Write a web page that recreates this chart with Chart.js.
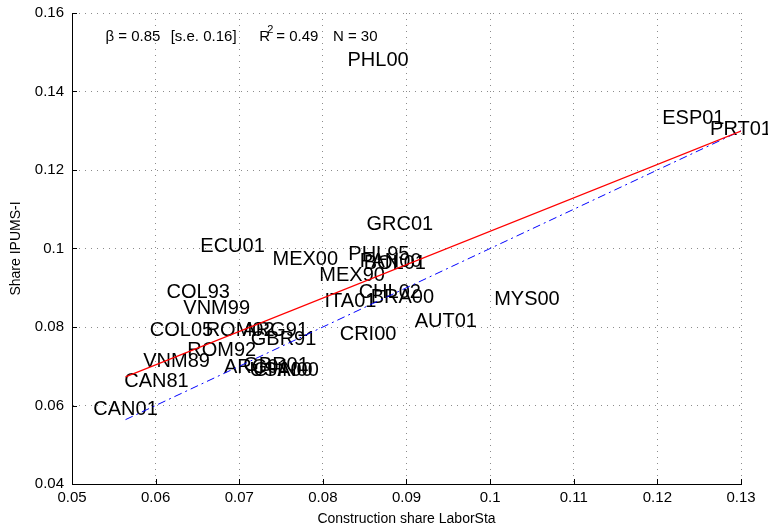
<!DOCTYPE html>
<html>
<head>
<meta charset="utf-8">
<script src="https://cdn.jsdelivr.net/npm/chart.js@4"></script>
<style>
  html, body { margin: 0; padding: 0; background: #fff; }
  #wrap { width: 768px; height: 531px; }
</style>
</head>
<body>
<div id="wrap"><canvas id="myChart" width="768" height="531"></canvas></div>
<script>
// country-year labels and their shares (x = LaborSta, y = IPUMS-I)
const countries = ['PHL00', 'ESP01', 'PRT01', 'GRC01', 'ECU01', 'MEX00', 'PHL95', 'PAN00', 'BOL01', 'MEX90',
                   'CHL02', 'ITA01', 'BRA00', 'AUT01', 'MYS00', 'CRI00', 'COL93', 'VNM99', 'COL05', 'ROM02',
                   'ARG91', 'GBR91', 'ROM92', 'VNM89', 'CAN81', 'CAN01', 'ARG01', 'GBR01', 'USA00', 'CHN00'];
const laborSta = [0.0866, 0.1243, 0.1300, 0.0892, 0.0692, 0.0779, 0.0867, 0.0881, 0.0886, 0.0835,
                  0.0880, 0.0833, 0.0895, 0.0947, 0.1044, 0.0854, 0.0651, 0.0673, 0.0631, 0.0701,
                  0.0743, 0.0753, 0.0679, 0.0625, 0.0601, 0.0564, 0.0721, 0.0744, 0.0750, 0.0756];
const ipums = [0.1480, 0.1332, 0.1302, 0.1062, 0.1004, 0.0971, 0.0986, 0.0966, 0.0963, 0.0932,
               0.0889, 0.0864, 0.0874, 0.0813, 0.0869, 0.0782, 0.0889, 0.0846, 0.0790, 0.0790,
               0.0790, 0.0769, 0.0739, 0.0713, 0.0662, 0.0589, 0.0698, 0.0701, 0.0690, 0.0690];

// regression line (red) and 45 degree line (blue), end points
const fitX = [0.0564, 0.1300];
const fitY = [0.0673, 0.1299];
const diagX = [0.0564, 0.1300];
const diagY = [0.0564, 0.1300];

const xTickLabels = ['0.05', '0.06', '0.07', '0.08', '0.09', '0.1', '0.11', '0.12', '0.13'];
const yTickLabels = ['0.04', '0.06', '0.08', '0.1', '0.12', '0.14', '0.16'];

const statsText = ['\u03B2 = 0.85', '[s.e. 0.16]', 'R', '2', '= 0.49', 'N = 30'];

const FONT = '"Liberation Sans", Arial, Helvetica, sans-serif';

// labels drawn centered on each point, before the lines
const labelPlugin = {
    id: 'countryLabels',
    beforeDatasetsDraw(chart) {
        const ctx = chart.ctx;
        const xs = chart.scales.x, ys = chart.scales.y;
        ctx.save();
        ctx.font = '20px ' + FONT;
        ctx.fillStyle = '#000';
        ctx.textAlign = 'center';
        ctx.textBaseline = 'middle';
        countries.forEach((c, i) => {
            ctx.fillText(c, xs.getPixelForValue(laborSta[i]), ys.getPixelForValue(ipums[i]));
        });
        ctx.restore();
    },
    afterDraw(chart) {
        const ctx = chart.ctx;
        const xs = chart.scales.x, ys = chart.scales.y;
        const area = chart.chartArea;
        ctx.save();
        // inward tick marks like matlab
        ctx.strokeStyle = '#000';
        ctx.lineWidth = 1;
        ctx.beginPath();
        xs.ticks.forEach(t => {
            const px = Math.round(xs.getPixelForValue(t.value)) + 0.5;
            ctx.moveTo(px, area.bottom);
            ctx.lineTo(px, area.bottom - 5);
        });
        ys.ticks.forEach(t => {
            const py = Math.round(ys.getPixelForValue(t.value)) + 0.5;
            ctx.moveTo(area.left, py);
            ctx.lineTo(area.left + 5, py);
        });
        ctx.stroke();

        // stats line at top left
        const y0 = ys.getPixelForValue(0.1540);
        ctx.fillStyle = '#000';
        ctx.textBaseline = 'middle';
        ctx.textAlign = 'left';
        ctx.font = '15px ' + FONT;
        ctx.fillText(statsText[0], xs.getPixelForValue(0.0540), y0);
        ctx.fillText(statsText[1], xs.getPixelForValue(0.0618), y0);
        const rx = xs.getPixelForValue(0.0724);
        ctx.fillText(statsText[2], rx, y0);
        ctx.font = '11px ' + FONT;
        ctx.fillText(statsText[3], rx + 8, y0 - 7);
        ctx.font = '15px ' + FONT;
        ctx.fillText(statsText[4], rx + 17, y0);
        ctx.fillText(statsText[5], xs.getPixelForValue(0.0812), y0);
        ctx.restore();
    }
};

const ctx = document.getElementById('myChart').getContext('2d');
const myChart = new Chart(ctx, {
    type: 'scatter',
    data: {
        datasets: [{
            label: 'countries',
            data: countries.map((c, i) => ({ x: laborSta[i], y: ipums[i] })),
            pointRadius: 0,
            showLine: false
        }, {
            label: 'fit',
            data: fitX.map((x, i) => ({ x: x, y: fitY[i] })),
            showLine: true,
            borderColor: '#ff0000',
            borderWidth: 1.2,
            pointRadius: 0
        }, {
            label: '45 degree',
            data: diagX.map((x, i) => ({ x: x, y: diagY[i] })),
            showLine: true,
            borderColor: '#0000ff',
            borderWidth: 1,
            borderDash: [8, 4, 2, 4],
            pointRadius: 0
        }]
    },
    plugins: [labelPlugin],
    options: {
        responsive: false,
        animation: false,
        layout: { autoPadding: false, padding: { top: 13, right: 27, left: 0, bottom: 0 } },
        plugins: {
            legend: { display: false },
            tooltip: { enabled: false }
        },
        scales: {
            x: {
                type: 'linear',
                min: 0.05,
                max: 0.13,
                afterFit: s => { s.height = 47; s.paddingLeft = 0; s.paddingRight = 0; },
                afterBuildTicks: s => {
                    s.ticks = xTickLabels.map(v => ({ value: parseFloat(v) }));
                },
                ticks: {
                    color: '#000',
                    padding: 5,
                    maxRotation: 0,
                    font: { family: FONT, size: 15 },
                    callback: (v, i) => xTickLabels[i]
                },
                grid: { color: '#8c8c8c', drawTicks: false, lineWidth: 1 },
                border: { display: true, color: '#000', width: 1, dash: [1, 5] },
                title: {
                    display: true,
                    text: 'Construction share LaborSta',
                    color: '#000',
                    font: { family: FONT, size: 14 },
                    padding: { top: 0, bottom: 3 }
                }
            },
            y: {
                type: 'linear',
                min: 0.04,
                max: 0.16,
                afterFit: s => { s.width = 72; s.paddingTop = 0; s.paddingBottom = 0; },
                afterBuildTicks: s => {
                    s.ticks = yTickLabels.map(v => ({ value: parseFloat(v) }));
                },
                ticks: {
                    color: '#000',
                    padding: 8,
                    font: { family: FONT, size: 15 },
                    callback: (v, i) => yTickLabels[i]
                },
                grid: { color: '#8c8c8c', drawTicks: false, lineWidth: 1 },
                border: { display: true, color: '#000', width: 1, dash: [1, 5] },
                title: {
                    display: true,
                    text: 'Share IPUMS-I',
                    color: '#000',
                    font: { family: FONT, size: 14 },
                    padding: { top: 8, bottom: 0 }
                }
            }
        }
    }
});
</script>
</body>
</html>
